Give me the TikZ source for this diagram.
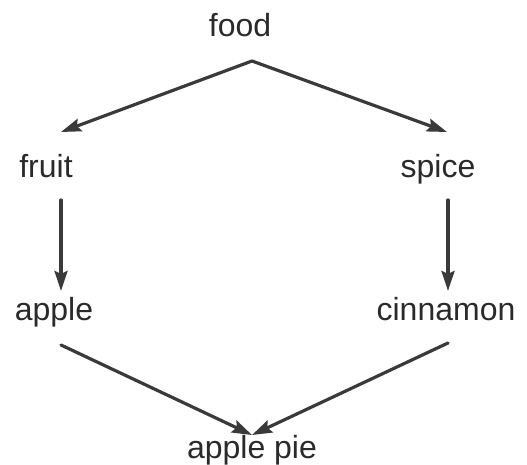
\documentclass[tikz,border=0pt]{standalone}
\usepackage{fontspec}
\setmainfont{Liberation Sans}
\usetikzlibrary{arrows.meta}
\definecolor{ink}{HTML}{2A2A2A}
\definecolor{linec}{HTML}{3A3A3A}
\tikzset{
  lbl/.style={anchor=base, inner sep=0pt, text=ink, font=\fontsize{32}{38}\selectfont},
  conn/.style={draw=linec, line width=3.2pt, -{Stealth[length=20pt,width=13pt,inset=3pt]}, line cap=round, line join=round}
}
\begin{document}
\begin{tikzpicture}[x=1pt,y=-1pt]
\useasboundingbox (0,0) rectangle (527,465);
\node[lbl] (food) at (240,37) {food};
\node[lbl] (fruit) at (46,178) {fruit};
\node[lbl] (spice) at (438,178) {spice};
\node[lbl] (apple) at (54,320) {apple};
\node[lbl] (cinnamon) at (446,320) {cinnamon};
\node[lbl] (pie) at (252,458) {apple pie};
\coordinate (apex) at (252,61);
\coordinate (fruitin) at (61,132);
\coordinate (spicein) at (447,132);
\coordinate (fruitout) at (61,200);
\coordinate (applein) at (61,291);
\coordinate (spiceout) at (448,200);
\coordinate (cinnin) at (448,291);
\coordinate (appleout) at (61,345);
\coordinate (cinnout) at (448,343);
\coordinate (piein) at (252,435);
\draw[conn] (apex) -- (fruitin);
\draw[conn] (apex) -- (spicein);
\draw[conn] (fruitout) -- (applein);
\draw[conn] (spiceout) -- (cinnin);
\draw[conn] (appleout) -- (piein);
\draw[conn] (cinnout) -- (piein);
\end{tikzpicture}
\end{document}
